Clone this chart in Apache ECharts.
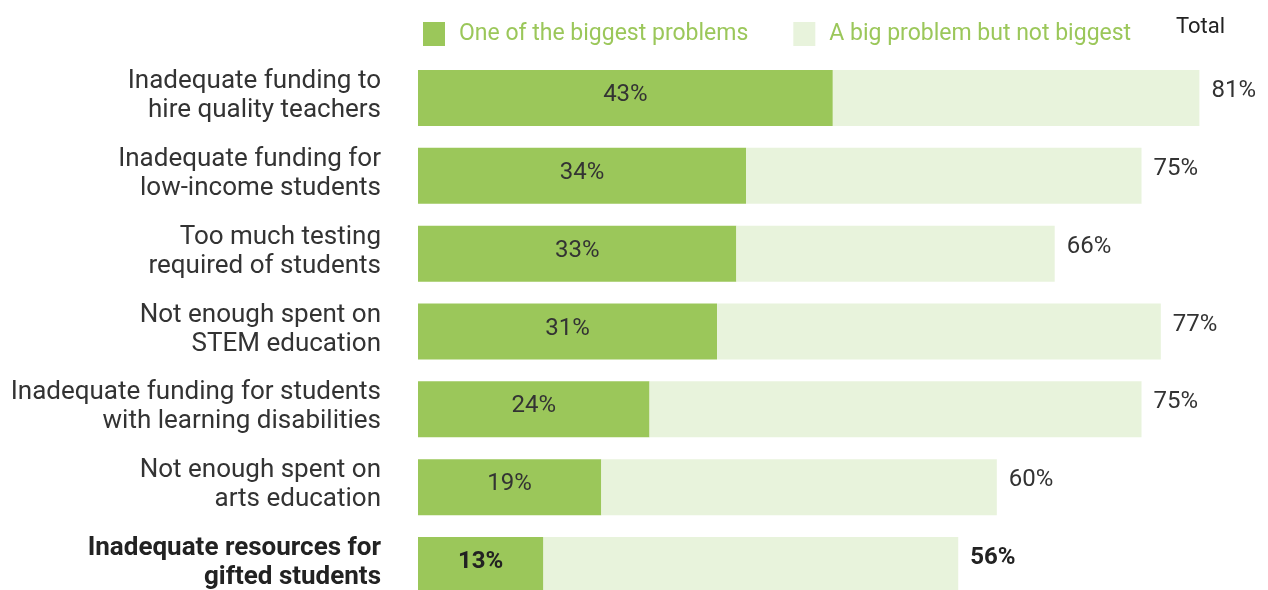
<!DOCTYPE html>
<html><head><meta charset="utf-8">
<script src="https://cdn.jsdelivr.net/npm/echarts@6/dist/echarts.min.js"></script>
<style>html,body{margin:0;padding:0;background:#fff}#c{width:1268px;height:590px}</style>
</head><body><div id="c"></div>
<script>
const categories = [
  "Inadequate funding to\nhire quality teachers",
  "Inadequate funding for\nlow-income students",
  "Too much testing\nrequired of students",
  "Not enough spent on\nSTEM education",
  "Inadequate funding for students\nwith learning disabilities",
  "Not enough spent on\narts education",
  "Inadequate resources for\ngifted students"
];
const biggest = [43, 34, 33, 31, 24, 19, 13];
const totals = [81, 75, 66, 77, 75, 60, 56];
const seriesNames = ["One of the biggest problems", "A big problem but not biggest"];
const boldIndex = 6;

const notBiggest = totals.map((t, i) => t - biggest[i]);
const DARK = "#9bc75a", LIGHT = "#e8f3dc", TXT = "#333333";
const FONT = "Roboto, 'Noto Sans', sans-serif";

const chart = echarts.init(document.getElementById('c'));
chart.setOption({
  animation: false,
  textStyle: { fontFamily: FONT },
  legend: {
    left: 418, top: 17, itemWidth: 22, itemHeight: 24, itemGap: 45,
    icon: 'rect',
    textStyle: { color: DARK, fontSize: 23, fontFamily: FONT, padding: [0, 0, 0, 9] },
    data: seriesNames
  },
  graphic: [{
    type: 'text', left: 1176, top: 16,
    style: { text: 'Total', fill: '#222', font: "22px " + FONT }
  }],
  grid: { left: 418, right: 30, top: 59, height: 545, outerBoundsMode: 'none', containLabel: false },
  xAxis: { type: 'value', min: 0, max: 85, show: false },
  yAxis: {
    type: 'category', inverse: true, data: categories,
    axisLine: { show: false }, axisTick: { show: false },
    axisLabel: {
      margin: 37, fontSize: 26, color: TXT, lineHeight: 29, align: 'right',
      padding: [0, 0, 4, 0],
      formatter: (v, i) => i === boldIndex ? '{b|' + v.split('\n').join('}\n{b|') + '}' : v,
      rich: { b: { fontSize: 26, fontWeight: 'bold', color: '#222', lineHeight: 29, fontFamily: FONT } }
    }
  },
  series: [
    {
      name: seriesNames[0], type: 'bar', stack: 's', barWidth: 56,
      itemStyle: { color: DARK },
      label: {
        show: true, position: 'inside', color: TXT, fontSize: 24, offset: [0, -3],
        formatter: p => p.value + '%'
      },
      data: biggest.map((v, i) => i === boldIndex ? { value: v, label: { fontWeight: 'bold', color: '#222' } } : v)
    },
    {
      name: seriesNames[1], type: 'bar', stack: 's', barWidth: 56,
      itemStyle: { color: LIGHT },
      label: {
        show: true, position: 'right', distance: 12, color: TXT, fontSize: 24, offset: [0, -7],
        formatter: p => totals[p.dataIndex] + '%'
      },
      data: notBiggest.map((v, i) => i === boldIndex ? { value: v, label: { fontWeight: 'bold', color: '#222' } } : v)
    }
  ]
});
</script></body></html>
